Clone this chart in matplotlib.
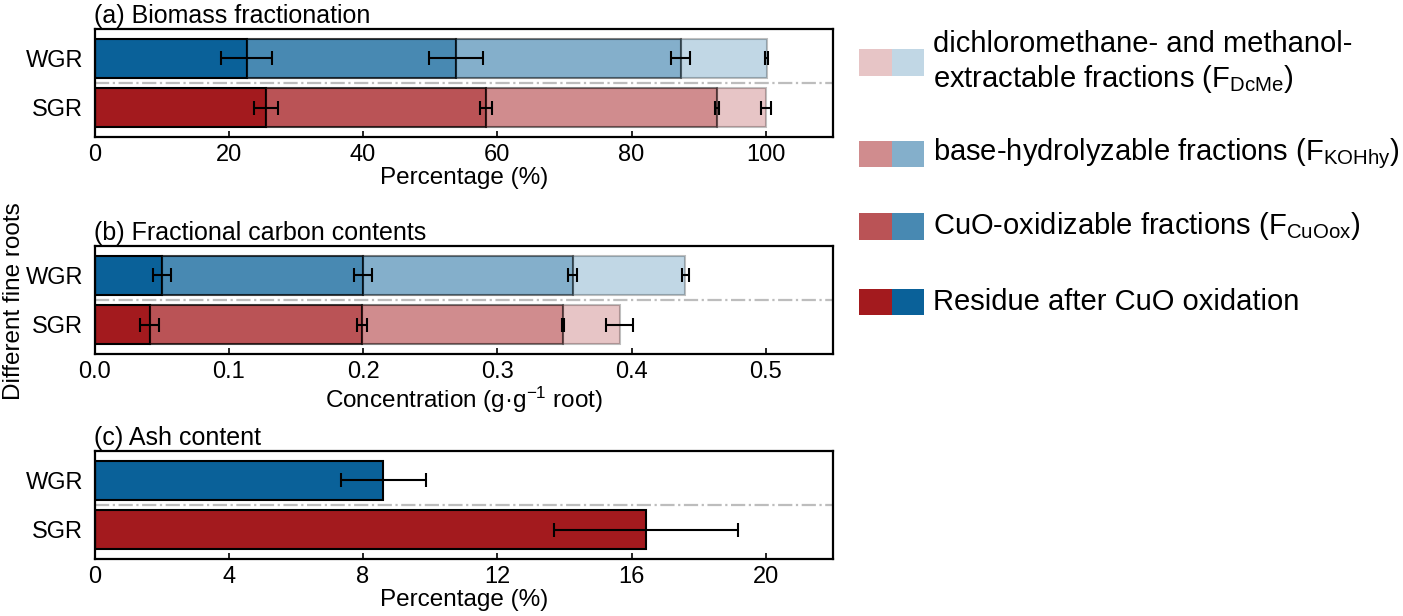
import matplotlib
matplotlib.use("Agg")
import matplotlib.pyplot as plt
from matplotlib.patches import Rectangle
import numpy as np

plt.rcParams['font.family'] = ['Liberation Sans', 'DejaVu Sans']
plt.rcParams['mathtext.fontset'] = 'custom'
plt.rcParams['mathtext.rm'] = 'Liberation Sans'
plt.rcParams['mathtext.it'] = 'Liberation Sans:italic'
plt.rcParams['mathtext.bf'] = 'Liberation Sans:bold'

# ---------------- data ----------------
roots = ['SGR', 'WGR']
fractions = ['Residue after CuO oxidation', 'CuO-oxidizable fractions',
             'base-hydrolyzable fractions', 'dichloromethane- and methanol-extractable fractions']

# (a) Biomass fractionation, cumulative percentages (%)
bio_cum_SGR = [25.6, 58.3, 92.7, 100.0]
bio_cum_WGR = [22.7, 53.8, 87.3, 100.1]
bio_err_SGR = [1.8, 0.9, 0.25, 0.7]
bio_err_WGR = [3.8, 4.0, 1.45, 0.2]

# (b) Fractional carbon contents, cumulative (g g-1 root)
carb_cum_SGR = [0.041, 0.199, 0.349, 0.391]
carb_cum_WGR = [0.0505, 0.200, 0.356, 0.440]
carb_err_SGR = [0.0072, 0.0038, 0.001, 0.010]
carb_err_WGR = [0.0068, 0.0065, 0.0035, 0.0028]

# (c) Ash content (%)
ash = [16.43, 8.60]       # SGR, WGR
ash_err = [2.75, 1.27]

xticks_a = [0, 20, 40, 60, 80, 100]
xticks_b = [0.0, 0.1, 0.2, 0.3, 0.4, 0.5]
xticks_c = [0, 4, 8, 12, 16, 20]

red = '#A31A1E'
blue = '#0A6199'
alphas = [1.0, 0.75, 0.5, 0.25]

TICK_FS = 17
LABEL_FS = 17.5
TITLE_FS = 18
LEG_FS = 21

W, H = 1403, 616
fig = plt.figure(figsize=(W / 100, H / 100), dpi=100)

left = 94.5 / W
width = (833 - 94.5) / W
ah = 108 / H


def make_ax(top_px):
    return fig.add_axes([left, 1 - (top_px + 108) / H, width, ah])


def style(ax, xlim, xticks, xlabel, title, ticklabels):
    ax.set_xlim(*xlim)
    ax.set_ylim(-0.6, 1.6)
    ax.set_xticks(xticks)
    ax.set_xticklabels(ticklabels)
    ax.set_yticks([0, 1])
    ax.set_yticklabels(roots)
    ax.tick_params(axis='x', direction='in', length=4, width=1.2, labelsize=TICK_FS, pad=5)
    ax.tick_params(axis='y', length=0, labelsize=TICK_FS, pad=8)
    for s in ax.spines.values():
        s.set_linewidth(1.6)
    ax.set_xlabel(xlabel, fontsize=LABEL_FS, labelpad=1)
    ax.set_title(title, loc='left', fontsize=TITLE_FS, pad=4)
    ax.axhline(0.5, color='#BDBDBD', linestyle='-.', linewidth=1.6, zorder=1)


def stacked(ax, cum_list, err_list):
    colors = [red, blue]
    for yi, (cum, err) in enumerate(zip(cum_list, err_list)):
        lefts = [0] + cum[:-1]
        for k in range(4):
            ax.barh(yi, cum[k] - lefts[k], left=lefts[k], height=0.8,
                    color=colors[yi], alpha=alphas[k], edgecolor='black',
                    linewidth=1.5, zorder=2)
        ax.errorbar(cum, [yi] * 4, xerr=err, fmt='none', ecolor='black',
                    elinewidth=1.5, capsize=5, capthick=1.5, zorder=3)


# (a)
ax1 = make_ax(29)
stacked(ax1, [bio_cum_SGR, bio_cum_WGR], [bio_err_SGR, bio_err_WGR])
style(ax1, (0, 110), xticks_a, 'Percentage (%)', '(a) Biomass fractionation',
      [str(t) for t in xticks_a])

# (b)
ax2 = make_ax(246)
stacked(ax2, [carb_cum_SGR, carb_cum_WGR], [carb_err_SGR, carb_err_WGR])
style(ax2, (0, 0.55), xticks_b, 'Concentration (g·g$^{-1}$ root)',
      '(b) Fractional carbon contents', ['%.1f' % t for t in xticks_b])

# (c)
ax3 = make_ax(451)
ax3.barh([0, 1], ash, height=0.8, color=[red, blue], edgecolor='black',
         linewidth=1.5, zorder=2)
ax3.errorbar(ash, [0, 1], xerr=ash_err, fmt='none', ecolor='black',
             elinewidth=1.5, capsize=5, capthick=1.5, zorder=3)
style(ax3, (0, 22), xticks_c, 'Percentage (%)', '(c) Ash content',
      [str(t) for t in xticks_c])

fig.text(14 / W, 1 - 301 / H, 'Different fine roots', rotation=90,
         ha='center', va='center', fontsize=LABEL_FS)

# legend
leg_labels = ['dichloromethane- and methanol-\nextractable fractions (F$_{\\rm DcMe}$)',
              'base-hydrolyzable fractions (F$_{\\rm KOHhy}$)',
              'CuO-oxidizable fractions (F$_{\\rm CuOox}$)',
              'Residue after CuO oxidation']
leg_alpha = [0.25, 0.5, 0.75, 1.0]
leg_y = [62.5, 154, 226.5, 302]
pw, ph = 32.3, 26
for lab, a, yc in zip(leg_labels, leg_alpha, leg_y):
    for j, c in enumerate([red, blue]):
        x0 = 859.3 + j * pw
        fig.add_artist(Rectangle((x0 / W, 1 - (yc + ph / 2) / H), pw / W, ph / H,
                                 transform=fig.transFigure, facecolor=c,
                                 alpha=a, edgecolor='none'))
    fig.text(933 / W, 1 - yc / H, lab, ha='left', va='center', fontsize=LEG_FS,
             linespacing=1.2)

fig.savefig('out.png', dpi=100)
